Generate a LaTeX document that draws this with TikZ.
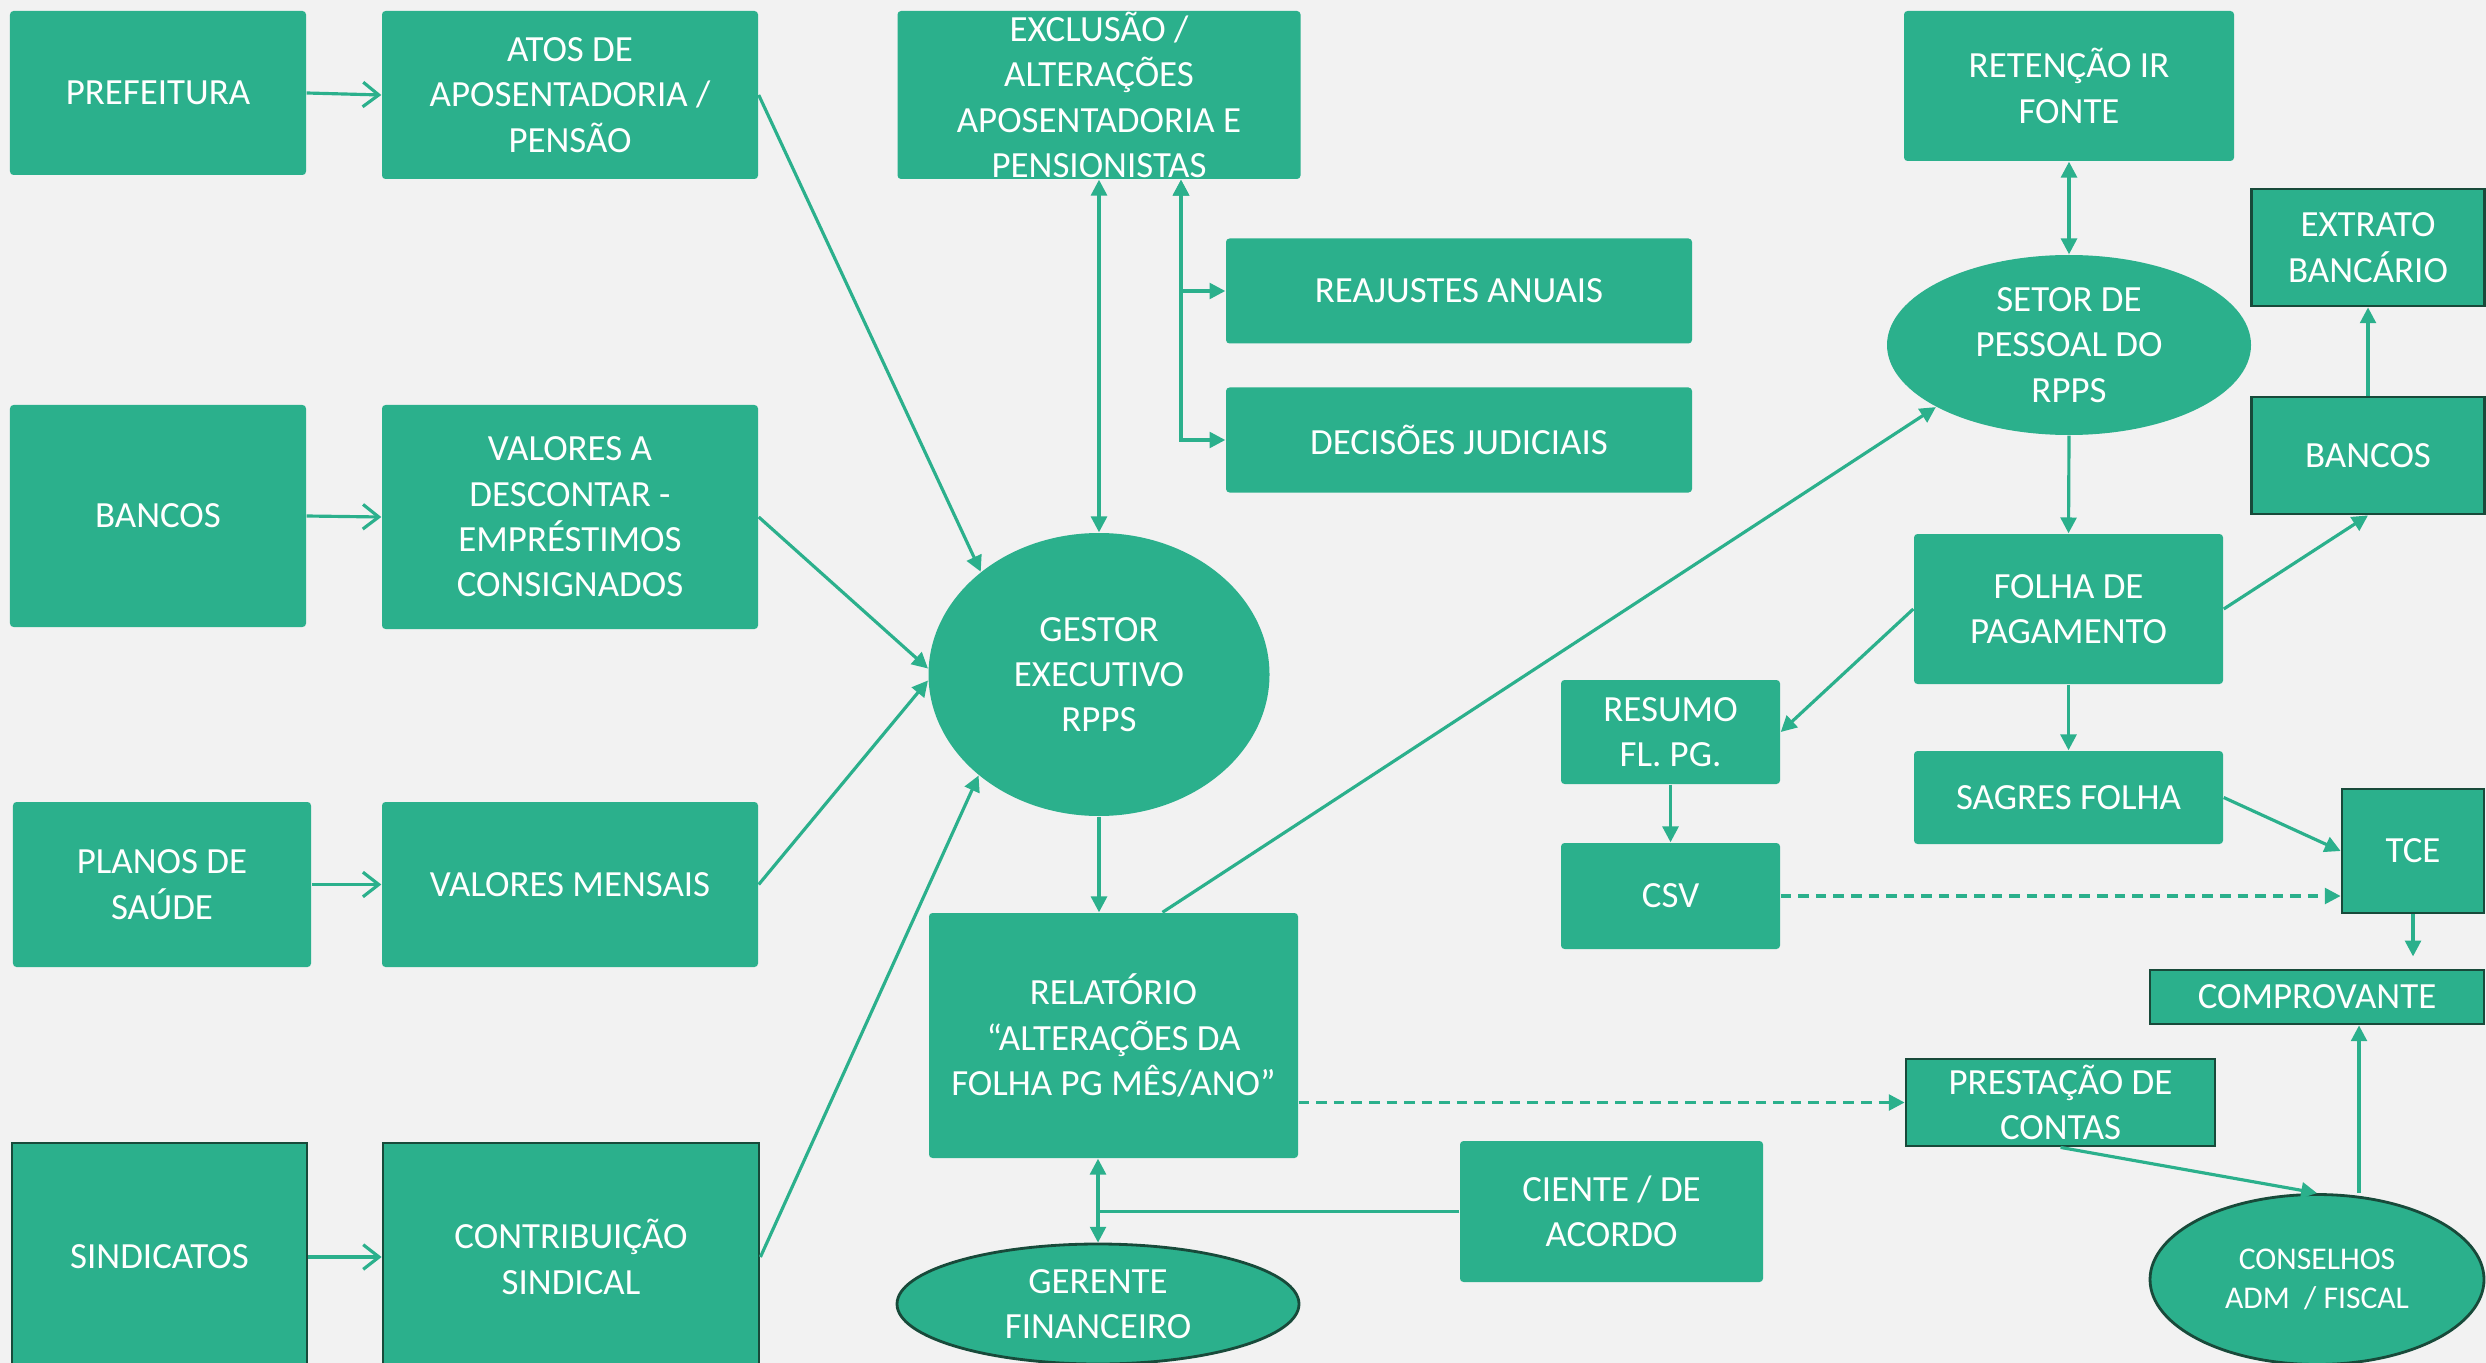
\documentclass[tikz,border=0pt]{standalone}
\usepackage{fontspec}
\setmainfont{Carlito}
\usetikzlibrary{arrows.meta,shapes.geometric}
\definecolor{verde}{RGB}{43,176,140}
\definecolor{verdeesc}{RGB}{24,74,58}
\definecolor{fundo}{RGB}{242,242,242}

\begin{document}
\begin{tikzpicture}[
  caixa/.style = {rectangle, fill=verde, text=white, align=center, inner sep=0pt, rounded corners=1pt, font=\fontsize{10.5}{12.9}\selectfont},
  caixaesc/.style = {caixa, draw=verdeesc, line width=0.8pt, rounded corners=0pt},
  elipse/.style = {ellipse, fill=verde, text=white, align=center, inner sep=0pt, font=\fontsize{10.5}{12.9}\selectfont},
  elipseesc/.style = {elipse, draw=verdeesc, line width=0.8pt},
  tam/.style 2 args = {minimum width=#1cm, minimum height=#2cm},
  linha/.style = {draw=verde, line width=0.9pt},
  seta/.style = {linha, -{Triangle[length=4.5pt,width=4.5pt]}},
  setadupla/.style = {linha, {Triangle[length=4.5pt,width=4.5pt]}-{Triangle[length=4.5pt,width=4.5pt]}},
  setaaberta/.style = {linha, -{Straight Barb[length=4.5pt,width=7pt]}},
  tracejada/.style = {seta, dash pattern=on 3pt off 2pt}
]
  \useasboundingbox (0,0) rectangle (24.86,-13.63);
  \fill[fundo] (0,0) rectangle (24.86,-13.63);

  \node[caixa, tam={2.96}{1.64}] (pref) at (1.58,-0.93) {PREFEITURA};
  \node[caixa, tam={3.76}{1.68}] (atos) at (5.70,-0.95) {ATOS DE\\APOSENTADORIA /\\PENSÃO};
  \node[caixa, tam={2.96}{2.22}] (bancosL) at (1.58,-5.16) {BANCOS};
  \node[caixa, tam={3.76}{2.24}] (valdesc) at (5.70,-5.17) {VALORES A\\DESCONTAR -\\EMPRÉSTIMOS\\CONSIGNADOS};
  \node[caixa, tam={2.98}{1.65}] (planos) at (1.62,-8.845) {PLANOS DE\\SAÚDE};
  \node[caixa, tam={3.76}{1.65}] (valmens) at (5.70,-8.845) {VALORES MENSAIS};
  \node[caixaesc, tam={2.95}{2.28}] (sind) at (1.595,-12.57) {SINDICATOS};
  \node[caixaesc, tam={3.76}{2.28}] (contrib) at (5.71,-12.57) {CONTRIBUIÇÃO\\SINDICAL};

  \node[caixa, tam={4.03}{1.68}] (excl) at (10.99,-0.95) {EXCLUSÃO /\\ALTERAÇÕES\\APOSENTADORIA E\\PENSIONISTAS};
  \node[caixa, tam={4.66}{1.05}] (reaj) at (14.59,-2.91) {REAJUSTES ANUAIS};
  \node[caixa, tam={4.66}{1.05}] (decis) at (14.59,-4.40) {DECISÕES JUDICIAIS};
  \node[elipse, tam={3.41}{2.83}] (gestor) at (10.99,-6.745) {GESTOR\\EXECUTIVO\\RPPS};
  \node[caixa, tam={3.69}{2.45}] (relat) at (11.135,-10.355) {RELATÓRIO\\“ALTERAÇÕES DA\\FOLHA PG MÊS/ANO”};
  \node[elipseesc, tam={4.02}{1.20}] (gerente) at (10.98,-13.04) {GERENTE\\FINANCEIRO};
  \node[caixa, tam={3.03}{1.41}] (ciente) at (16.115,-12.115) {CIENTE / DE\\ACORDO};

  \node[caixa, tam={2.19}{1.04}] (resumo) at (16.705,-7.32) {RESUMO\\FL. PG.};
  \node[caixa, tam={2.19}{1.06}] (csv) at (16.705,-8.96) {CSV};
  \node[caixa, tam={3.30}{1.50}] (ret) at (20.69,-0.86) {RETENÇÃO IR\\FONTE};
  \node[elipse, tam={3.64}{1.80}] (setor) at (20.69,-3.45) {SETOR DE\\PESSOAL DO\\RPPS};
  \node[caixa, tam={3.09}{1.50}] (folha) at (20.685,-6.09) {FOLHA DE\\PAGAMENTO};
  \node[caixa, tam={3.09}{0.93}] (sagres) at (20.685,-7.975) {SAGRES FOLHA};
  \node[caixaesc, tam={3.09}{0.87}] (prest) at (20.605,-11.025) {PRESTAÇÃO DE\\CONTAS};
  \node[caixaesc, tam={2.33}{1.17}] (extrato) at (23.68,-2.475) {EXTRATO\\BANCÁRIO};
  \node[caixaesc, tam={2.33}{1.17}] (bancosR) at (23.68,-4.555) {BANCOS};
  \node[caixaesc, tam={1.42}{1.24}] (tce) at (24.13,-8.51) {TCE};
  \node[caixaesc, tam={3.34}{0.54}] (comprov) at (23.17,-9.97) {COMPROVANTE};
  \node[elipseesc, tam={3.34}{1.70}, font=\fontsize{9}{11}\selectfont] (conselhos) at (23.17,-12.795) {CONSELHOS\\ADM~ / FISCAL};

  \draw[setaaberta] (pref.east) -- (atos.west);
  \draw[setaaberta] (bancosL.east) -- (valdesc.west);
  \draw[setaaberta] (planos.east) -- (valmens.west);
  \draw[setaaberta] (sind.east) -- (contrib.west);
  \draw[seta] (atos.east) -- (gestor.139);
  \draw[seta] (valdesc.east) -- (gestor.178);
  \draw[seta] (valmens.east) -- (gestor.182);
  \draw[seta] (contrib.east) -- (gestor.220);
  \draw[setadupla] (excl.south) -- (gestor.north);
  \draw[setadupla] ([xshift=0.82cm]excl.south) |- (reaj.west);
  \draw[setadupla] ([xshift=0.82cm]excl.south) |- (decis.west);
  \draw[seta] (gestor.south) -- (gestor.south |- relat.north);
  \draw[seta] ([xshift=0.49cm]relat.north) -- (setor.205);
  \draw[setadupla] (ret.south) -- (setor.north);
  \draw[seta] (setor.south) -- (folha.north);
  \draw[seta] (folha.west) -- (resumo.east);
  \draw[seta] (folha.east) -- (bancosR.south);
  \draw[seta] (bancosR.north) -- (extrato.south);
  \draw[seta] (folha.south) -- (sagres.north);
  \draw[seta] (resumo.south) -- (csv.north);
  \draw[seta] (sagres.east) -- (tce.west);
  \draw[tracejada] (csv.east) -- (csv.east -| tce.west);
  \draw[seta] (tce.south) -- ++(0,-0.42);
  \draw[tracejada] (relat.east |- prest.west) -- (prest.west);
  \draw[seta] (prest.south) -- (conselhos.north);
  \draw[seta] ([xshift=0.42cm]conselhos.north) -- ([xshift=0.42cm]conselhos.north |- comprov.south);
  \draw[setadupla] (gerente.north |- relat.south) -- (gerente.north);
  \draw[linha] (ciente.west) -- (ciente.west -| gerente.north);
\end{tikzpicture}
\end{document}
